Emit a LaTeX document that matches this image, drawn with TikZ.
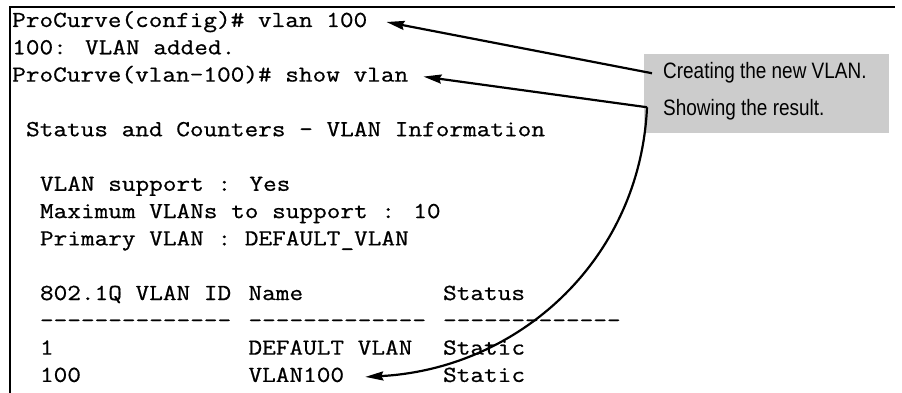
\documentclass[tikz,border=0pt]{standalone}
\usepackage{fontspec}
\newfontfamily\notefont{Liberation Sans}[FakeStretch=0.85]
\newfontfamily\termfont{Latin Modern Mono}[FakeStretch=1.158, FakeBold=0.7]
\usetikzlibrary{arrows.meta}
\definecolor{notegray}{HTML}{CCCCCC}

\begin{document}
\begin{tikzpicture}[x=1pt, y=-1pt,
    term/.style={anchor=base west, inner sep=0pt, font=\termfont\fontsize{22.9}{27}\selectfont},
    note/.style={anchor=base west, inner sep=0pt, font=\notefont\fontsize{22.3}{26}\selectfont},
    notebox/.style={fill=notegray, inner sep=0pt, anchor=north west, minimum width=245pt, minimum height=79pt},
    pointer/.style={-{Stealth[length=18pt, width=9pt, inset=2pt]}, line width=2.2pt},
    frame/.style={line width=2.5pt}]
  \useasboundingbox (0,0) rectangle (902,393);
  \draw[frame] (10,393) -- (10,7) -- (895,7);

  \node[term] (l1) at (12,27) {ProCurve(config)\# vlan 100};
  \node[term] (l2) at (12,54.3) {100: VLAN added.};
  \node[term] (l3) at (12,81.6) {ProCurve(vlan-100)\# show vlan};
  \node[term] (l5) at (12+13.9,136.2) {Status and Counters - VLAN Information};
  \node[term] (l7) at (12+13.9*2,190.8) {VLAN support : Yes};
  \node[term] (l8) at (12+13.9*2,218.1) {Maximum VLANs to support : 10};
  \node[term] (l9) at (12+13.9*2,245.4) {Primary VLAN : DEFAULT\_VLAN};
  \node[term] (id11) at (12+13.9*2,300) {802.1Q VLAN ID};
  \node[term] (nm11) at (12+13.9*17,300) {Name};
  \node[term] (st11) at (12+13.9*31,300) {Status};
  \node[term] (id12) at (12+13.9*2,327.3) {--------------};
  \node[term] (nm12) at (12+13.9*17,327.3) {-------------};
  \node[term] (st12) at (12+13.9*31,327.3) {-------------};
  \node[term] (id13) at (12+13.9*2,354.6) {1};
  \node[term] (nm13) at (12+13.9*17,354.6) {DEFAULT VLAN};
  \node[term] (st13) at (12+13.9*31,354.6) {Static};
  \node[term] (id14) at (12+13.9*2,381.9) {100};
  \node[term] (nm14) at (12+13.9*17,381.9) {VLAN100};
  \node[term] (st14) at (12+13.9*31,381.9) {Static};

  \node[notebox] (note) at (644,54) {};
  \node[note] (create) at (663,79) {Creating the new VLAN.};
  \node[note] (result) at (663,116) {Showing the result.};

  \coordinate (k1) at ([xshift=-11pt]create.west);
  \coordinate (k2) at ([shift={(-16,-3)}]result.west);
  \coordinate (t1) at ([shift={(19,-5)}]l1.base east);
  \coordinate (t2) at ([shift={(15,-5)}]l3.base east);
  \coordinate (t3) at ([shift={(21,-5)}]nm14.base east);

  \draw[pointer] (k1) -- (t1);
  \draw[pointer] (k2) -- (t2);
  \draw[pointer] (k2) .. controls +(-7,153) and +(153,-8) .. (t3);
\end{tikzpicture}
\end{document}
